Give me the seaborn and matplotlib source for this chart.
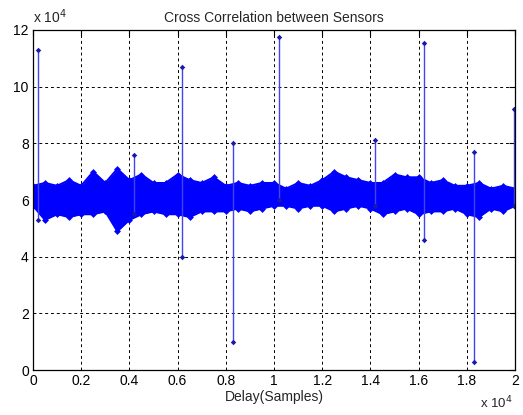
import numpy as np
import pandas as pd
import matplotlib
matplotlib.use('Agg')
import matplotlib.pyplot as plt
import seaborn as sns

# Envelope of the dense correlation band (x in 1e4 samples, y in 1e4)
delay = [0.00, 0.05, 0.10, 0.15, 0.20, 0.25, 0.30, 0.35, 0.40, 0.45,
         0.50, 0.55, 0.60, 0.65, 0.70, 0.75, 0.80, 0.85, 0.90, 0.95,
         1.00, 1.05, 1.10, 1.15, 1.20, 1.25, 1.30, 1.35, 1.40, 1.45,
         1.50, 1.55, 1.60, 1.65, 1.70, 1.75, 1.80, 1.85, 1.90, 1.95, 2.00]
band_high = [6.5, 6.6, 6.5, 6.7, 6.5, 7.0, 6.6, 7.1, 6.7, 6.9,
             6.6, 6.6, 6.9, 6.7, 6.6, 6.8, 6.5, 6.6, 6.5, 6.6,
             6.6, 6.4, 6.6, 6.5, 6.7, 7.0, 6.8, 6.7, 6.6, 6.6,
             6.9, 6.8, 6.8, 6.6, 6.7, 6.5, 6.5, 6.6, 6.4, 6.5, 6.4]
band_low = [5.8, 5.3, 5.5, 5.4, 5.5, 5.5, 5.6, 4.9, 5.3, 5.5,
            5.6, 5.5, 5.5, 5.4, 5.6, 5.6, 5.6, 5.7, 5.6, 5.7,
            5.8, 5.8, 5.7, 5.8, 5.8, 5.6, 5.7, 5.8, 5.7, 5.5,
            5.6, 5.7, 5.5, 5.6, 5.6, 5.7, 5.5, 5.4, 5.7, 5.6, 5.8]

# Isolated spikes: position, peak, trough
spike_pos = [0.02, 0.42, 0.62, 0.83, 1.02, 1.42, 1.62, 1.83, 1.995]
spike_top = [11.3, 7.6, 10.7, 8.0, 11.75, 8.1, 11.55, 7.7, 9.2]
spike_bot = [5.3, 5.5, 4.0, 1.0, 6.0, 5.8, 4.6, 0.3, 5.8]

band = pd.DataFrame({'delay': delay, 'high': band_high, 'low': band_low})
spikes = pd.DataFrame({'pos': spike_pos, 'top': spike_top, 'bot': spike_bot})

sns.set_style('white')
plt.rcParams['font.family'] = ['Liberation Sans', 'DejaVu Sans']

fig = plt.figure(figsize=(5.23, 4.15), dpi=100)
ax = fig.add_axes([0.063, 0.108, 0.922, 0.82])

ax.fill_between(band['delay'], band['low'], band['high'], color='blue', lw=0)
sns.lineplot(data=band, x='delay', y='high', ax=ax, color='blue', lw=1.5,
             marker='D', markersize=3.5, markeredgewidth=0)
sns.lineplot(data=band, x='delay', y='low', ax=ax, color='blue', lw=1.5,
             marker='D', markersize=3.5, markeredgewidth=0)

ax.vlines(spikes['pos'], spikes['bot'], spikes['top'], color='#4444ee', lw=1.0)
ax.plot(spikes['pos'], spikes['top'], 'D', color='#1a1aaa', ms=2.8, mew=0)
ax.plot(spikes['pos'], spikes['bot'], 'D', color='#1a1aaa', ms=2.8, mew=0)

ax.set_xlim(0, 2)
ax.set_ylim(0, 12)
ax.set_xticks(np.arange(0, 2.01, 0.2))
ax.set_xticklabels(['0', '0.2', '0.4', '0.6', '0.8', '1', '1.2', '1.4', '1.6', '1.8', '2'])
ax.set_yticks(np.arange(0, 13, 2))
ax.set_yticklabels([str(v) for v in range(0, 13, 2)])
ax.tick_params(direction='in', length=4, width=0.8, top=True, right=True,
               labelsize=10, colors='black', pad=3)
ax.grid(True, color='black', linestyle=(0, (3, 3)), lw=0.7)
for s in ax.spines.values():
    s.set_color('black')
    s.set_linewidth(0.9)

ax.set_xlabel('Delay(Samples)', fontsize=10, labelpad=1)
ax.set_ylabel('')
ax.set_title('Cross Correlation between Sensors', fontsize=10, pad=6)
ax.text(0.0, 1.012, r'x 10$^4$', transform=ax.transAxes, fontsize=10, va='bottom', ha='left')
ax.text(0.995, -0.112, r'x 10$^4$', transform=ax.transAxes, fontsize=9.5,
        va='baseline', ha='right')

fig.savefig('out.png', dpi=100)
